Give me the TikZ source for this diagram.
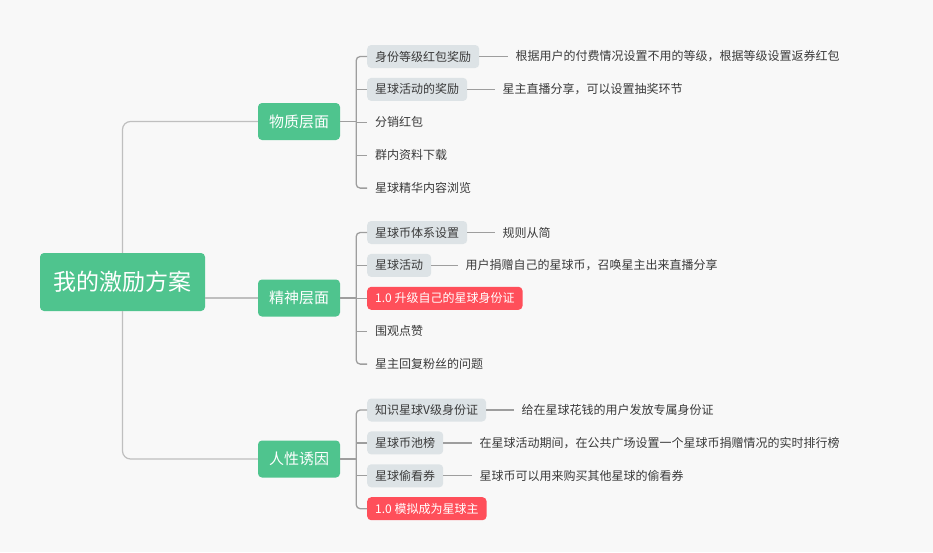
\documentclass[tikz,border=0pt]{standalone}
\usepackage{fontspec}
\setmainfont{Noto Sans CJK SC}
\usepackage{xcolor}
\usepackage{tikz}
\usetikzlibrary{positioning}
\definecolor{verde}{HTML}{4FC48E}
\definecolor{rojo}{HTML}{FF4F5A}
\definecolor{gris}{HTML}{DDE3E6}
\definecolor{tinta}{HTML}{3A3A3A}
\definecolor{fondo}{HTML}{F8F8F8}

\begin{document}
\begin{tikzpicture}[x=1pt, y=-1pt, node distance=9.5pt,
  raiz/.style={fill=verde, text=white, rounded corners=4pt, minimum width=165pt,
    minimum height=58pt, font=\fontsize{23}{26}\selectfont},
  rama/.style={fill=verde, text=white, rounded corners=4pt, minimum width=82pt,
    minimum height=37pt, font=\fontsize{15}{17}\selectfont},
  hoja/.style={anchor=west, text=tinta, inner xsep=8pt, inner ysep=0pt,
    minimum height=23pt, font=\fontsize{12}{14}\selectfont},
  caja/.style={hoja, fill=gris, rounded corners=4pt},
  roja/.style={hoja, fill=rojo, text=white, rounded corners=4pt},
  nota/.style={hoja, inner xsep=7pt, fill=none},
  enlace/.style={draw=black!25, line width=1.2pt, rounded corners=8pt},
  brazo/.style={draw=black!38, line width=1.3pt, rounded corners=4pt}]
  \useasboundingbox[fill=fondo] (0,0) rectangle (933,552);

  \node[raiz] (plan) at (122.5,282) {我的激励方案};
  \node[rama] (wuzhi) at (299,121.5) {物质层面};
  \node[rama] (jingshen) at (299,298) {精神层面};
  \node[rama] (renxing) at (299,459) {人性诱因};

  \draw[enlace] (plan.north) |- (wuzhi.west);
  \draw[enlace] (plan.east |- jingshen.west) -- (jingshen.west);
  \draw[enlace] (plan.south) |- (renxing.west);

  % 物质层面
  \node[caja] (w1) at (367,56.5) {身份等级红包奖励};
  \node[caja, below=of w1.south west, anchor=north west] (w2) {星球活动的奖励};
  \node[hoja, below=of w2.south west, anchor=north west] (w3) {分销红包};
  \node[hoja, below=of w3.south west, anchor=north west] (w4) {群内资料下载};
  \node[hoja, below=of w4.south west, anchor=north west] (w5) {星球精华内容浏览};
  \node[nota, right=29pt of w1] (nw1) {根据用户的付费情况设置不用的等级，根据等级设置返券红包};
  \node[nota, right=28pt of w2] (nw2) {星主直播分享，可以设置抽奖环节};
  \coordinate (wb) at ([xshift=16pt]wuzhi.east);
  \draw[brazo] (wuzhi.east) -- (wb);
  \draw[brazo] (w1.west) -| (wb) |- (w5.west);
  \foreach \h in {w2,w3,w4}
    \draw[brazo] (wb |- \h.west) -- (\h.west);
  \draw[brazo] (w1) -- (nw1);
  \draw[brazo] (w2) -- (nw2);

  % 精神层面
  \node[caja] (j1) at (367,232.5) {星球币体系设置};
  \node[caja, below=of j1.south west, anchor=north west] (j2) {星球活动};
  \node[roja, below=of j2.south west, anchor=north west] (j3) {1.0 升级自己的星球身份证};
  \node[hoja, below=of j3.south west, anchor=north west] (j4) {围观点赞};
  \node[hoja, below=of j4.south west, anchor=north west] (j5) {星主回复粉丝的问题};
  \node[nota, right=28pt of j1] (nj1) {规则从简};
  \node[nota, right=27pt of j2] (nj2) {用户捐赠自己的星球币，召唤星主出来直播分享};
  \coordinate (jb) at ([xshift=16pt]jingshen.east);
  \draw[brazo] (jingshen.east) -- (jb);
  \draw[brazo] (j1.west) -| (jb) |- (j5.west);
  \foreach \h in {j2,j3,j4}
    \draw[brazo] (jb |- \h.west) -- (\h.west);
  \draw[brazo] (j1) -- (nj1);
  \draw[brazo] (j2) -- (nj2);

  % 人性诱因
  \node[caja] (r1) at (367,410) {知识星球V级身份证};
  \node[caja, below=of r1.south west, anchor=north west] (r2) {星球币池榜};
  \node[caja, below=of r2.south west, anchor=north west] (r3) {星球偷看券};
  \node[roja, below=of r3.south west, anchor=north west] (r4) {1.0 模拟成为星球主};
  \node[nota, right=28pt of r1] (nr1) {给在星球花钱的用户发放专属身份证};
  \node[nota, right=29pt of r2] (nr2) {在星球活动期间，在公共广场设置一个星球币捐赠情况的实时排行榜};
  \node[nota, right=29pt of r3] (nr3) {星球币可以用来购买其他星球的偷看券};
  \coordinate (rb) at ([xshift=16pt]renxing.east);
  \draw[brazo] (renxing.east) -- (rb);
  \draw[brazo] (r1.west) -| (rb) |- (r4.west);
  \foreach \h in {r2,r3}
    \draw[brazo] (rb |- \h.west) -- (\h.west);
  \draw[brazo] (r1) -- (nr1);
  \draw[brazo] (r2) -- (nr2);
  \draw[brazo] (r3) -- (nr3);
\end{tikzpicture}
\end{document}
